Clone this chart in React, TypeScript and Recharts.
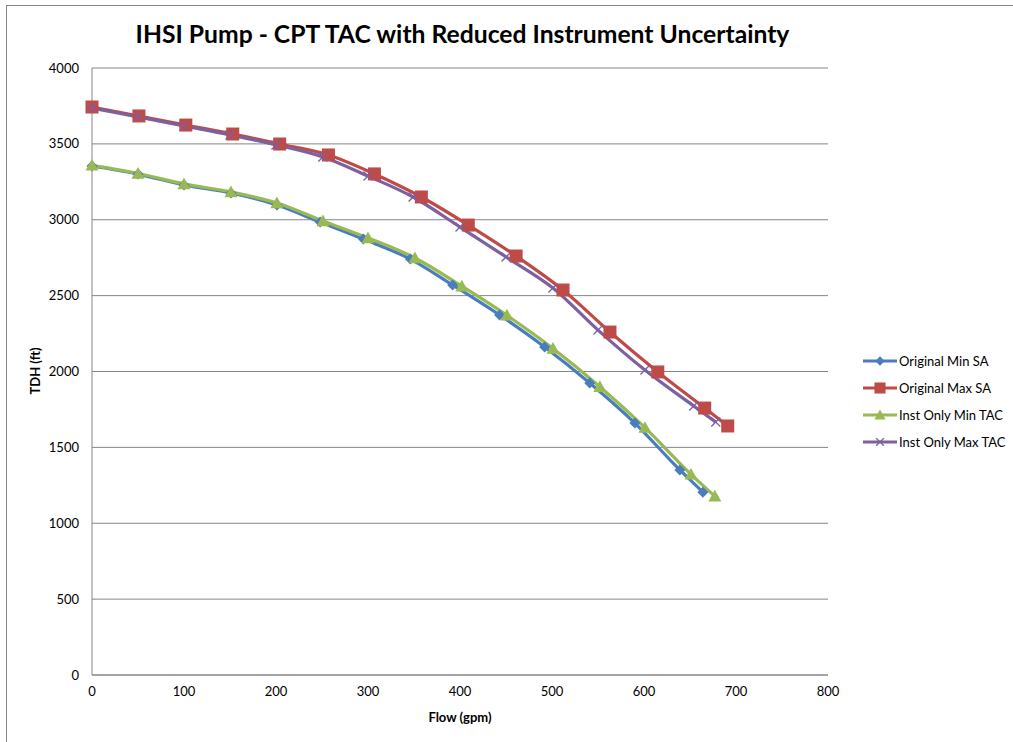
import React from 'react'
import { LineChart, Line, XAxis, YAxis, CartesianGrid } from 'recharts'

// Pump curves: flow (gpm) vs total developed head (ft)
const origMinFlow = [0, 50, 100, 151, 201, 248, 295, 346, 392, 443, 492, 541, 590, 639, 664]
const origMinTdh = [3354, 3301, 3229, 3176, 3097, 2985, 2873, 2741, 2570, 2372, 2161, 1924, 1660, 1351, 1205]

const origMaxFlow = [0, 51, 102, 153, 204, 257, 307, 358, 409, 461, 512, 563, 615, 666, 691]
const origMaxTdh = [3743, 3684, 3624, 3565, 3499, 3427, 3302, 3150, 2965, 2761, 2537, 2260, 1997, 1759, 1641]

const instMinFlow = [0, 50, 100, 151, 201, 251, 300, 351, 402, 451, 501, 552, 601, 651, 677]
const instMinTdh = [3358, 3305, 3236, 3183, 3110, 2992, 2880, 2748, 2562, 2370, 2152, 1900, 1630, 1322, 1178]

const instMaxFlow = [0, 50, 100, 150, 200, 251, 300, 349, 400, 450, 501, 550, 601, 654, 678]
const instMaxTdh = [3736, 3677, 3618, 3559, 3493, 3414, 3288, 3150, 2952, 2755, 2550, 2273, 2010, 1773, 1667]

const xTicks = [0, 100, 200, 300, 400, 500, 600, 700, 800]
const yTicks = [0, 500, 1000, 1500, 2000, 2500, 3000, 3500, 4000]

const toPoints = (flow: number[], tdh: number[]) => flow.map((f, i) => ({ flow: f, tdh: tdh[i] }))

const BLUE = '#4A7EBB'
const RED = '#BE4B48'
const GREEN = '#98B954'
const PURPLE = '#7D60A0'
const FONT = 'Lato, "DejaVu Sans", sans-serif'

type Shape = 'diamond' | 'square' | 'triangle' | 'cross'

const series: { name: string; color: string; shape: Shape; data: { flow: number; tdh: number }[] }[] = [
  { name: 'Original Min SA', color: BLUE, shape: 'diamond', data: toPoints(origMinFlow, origMinTdh) },
  { name: 'Original Max SA', color: RED, shape: 'square', data: toPoints(origMaxFlow, origMaxTdh) },
  { name: 'Inst Only Min TAC', color: GREEN, shape: 'triangle', data: toPoints(instMinFlow, instMinTdh) },
  { name: 'Inst Only Max TAC', color: PURPLE, shape: 'cross', data: toPoints(instMaxFlow, instMaxTdh) },
]

function Marker({ cx, cy, shape, color, scale = 1 }: { cx: number; cy: number; shape: Shape; color: string; scale?: number }) {
  if (cx == null || cy == null) return null
  if (shape === 'diamond') {
    const r = 5.5 * scale
    return <polygon points={`${cx},${cy - r} ${cx + r},${cy} ${cx},${cy + r} ${cx - r},${cy}`} fill={color} />
  }
  if (shape === 'square') {
    const r = 6.5 * scale
    return <rect x={cx - r} y={cy - r} width={r * 2} height={r * 2} fill={color} />
  }
  if (shape === 'triangle') {
    const r = 6.5 * scale
    return <polygon points={`${cx},${cy - r} ${cx + r},${cy + r * 0.8} ${cx - r},${cy + r * 0.8}`} fill={color} />
  }
  const r = 4.5 * scale
  return (
    <g stroke={color} strokeWidth={1.3}>
      <line x1={cx - r} y1={cy - r} x2={cx + r} y2={cy + r} />
      <line x1={cx - r} y1={cy + r} x2={cx + r} y2={cy - r} />
    </g>
  )
}

function LegendBox() {
  return (
    <div style={{ position: 'absolute', left: 862, top: 347, fontFamily: FONT, fontSize: 13, color: '#000' }}>
      {series.map((s) => (
        <div key={s.name} style={{ display: 'flex', alignItems: 'center', height: 27 }}>
          <svg width={36} height={14} style={{ marginRight: 1 }}>
            <line x1={1} y1={7} x2={35} y2={7} stroke={s.color} strokeWidth={3} />
            <Marker cx={18} cy={7} shape={s.shape} color={s.color} scale={0.85} />
          </svg>
          <span>{s.name}</span>
        </div>
      ))}
    </div>
  )
}

export default function App() {
  return (
    <div style={{ position: 'relative', width: 1013, height: 742, overflow: 'hidden', background: '#fff' }}>
      <style>{'body{margin:0}'}</style>
      <div style={{ position: 'absolute', left: 6, top: 5, width: 1200, height: 900, border: '1px solid #868686' }} />
      <div
        style={{
          position: 'absolute',
          left: 0,
          width: 925,
          top: 19,
          textAlign: 'center',
          fontFamily: FONT,
          fontWeight: 700,
          fontSize: 24.7,
          color: '#000',
        }}
      >
        IHSI Pump - CPT TAC with Reduced Instrument Uncertainty
      </div>
      <LineChart width={1013} height={742} margin={{ top: 68, right: 185, bottom: 0, left: 0 }} style={{ position: 'absolute', left: 0, top: 0 }}>
        <CartesianGrid horizontal vertical={false} stroke="#868686" />
        <XAxis
          type="number"
          dataKey="flow"
          domain={[0, 800]}
          ticks={xTicks}
          height={67}
          tickLine={false}
          axisLine={{ stroke: '#868686' }}
          tick={{ fill: '#000', fontSize: 13, fontFamily: FONT }}
          tickMargin={6}
          allowDuplicatedCategory={false}
        />
        <YAxis
          type="number"
          dataKey="tdh"
          domain={[0, 4000]}
          ticks={yTicks}
          width={92}
          tickLine={false}
          axisLine={{ stroke: '#868686' }}
          tick={{ fill: '#000', fontSize: 13, fontFamily: FONT }}
          tickMargin={7}
        />
        {series.map((s) => (
          <Line
            key={s.name}
            data={s.data}
            dataKey="tdh"
            name={s.name}
            type="monotone"
            stroke={s.color}
            strokeWidth={3.2}
            isAnimationActive={false}
            dot={(p: any) => <Marker key={`${s.name}-${p.index}`} cx={p.cx} cy={p.cy} shape={s.shape} color={s.color} />}
            activeDot={false}
          />
        ))}
      </LineChart>
      <div
        style={{
          position: 'absolute',
          left: 35,
          top: 371,
          transform: 'translate(-50%, -50%) rotate(-90deg)',
          fontFamily: FONT,
          fontWeight: 700,
          fontSize: 13,
          whiteSpace: 'nowrap',
          color: '#000',
        }}
      >
        TDH (ft)
      </div>
      <div
        style={{
          position: 'absolute',
          left: 460,
          top: 717,
          transform: 'translate(-50%, -50%)',
          fontFamily: FONT,
          fontWeight: 700,
          fontSize: 13,
          whiteSpace: 'nowrap',
          color: '#000',
        }}
      >
        Flow (gpm)
      </div>
      <LegendBox />
    </div>
  )
}
